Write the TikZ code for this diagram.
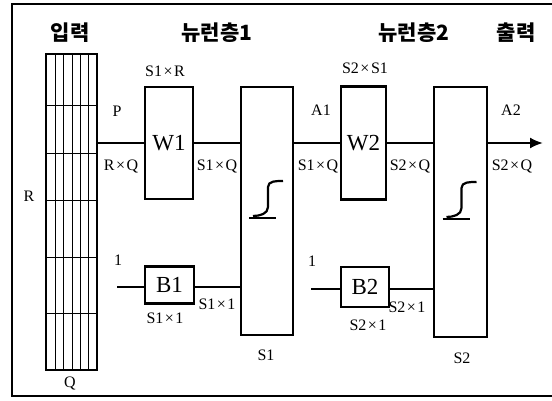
\documentclass[tikz,border=0pt]{standalone}
\usepackage{fontspec}
\setmainfont{Liberation Serif}
\newfontfamily\kor{Noto Sans CJK KR}
\usetikzlibrary{arrows.meta}
\newcommand{\tms}{\hspace{1.5pt}×\hspace{1.5pt}}
\begin{document}
\begin{tikzpicture}[x=1pt, y=-1pt, >={Latex[length=13pt,width=11pt]},
  box/.style={draw, line width=2.2pt, inner sep=0pt, font=\fontsize{23}{25}\selectfont},
  lbl/.style={inner sep=0pt, font=\fontsize{16}{18}\selectfont},
  ttl/.style={inner sep=0pt, font=\kor\bfseries\fontsize{21}{24}\selectfont},
  wire/.style={line width=2pt}]
\useasboundingbox (0,0) rectangle (552,401);
% rahmen
\draw[line width=1.3pt] (552,4) -- (12,4) -- (12,396) -- (552,396);
% titel
\node[ttl] (tin) at (70,33) {입력};
\node[ttl] (tl1) at (217,33) {뉴런층1};
\node[ttl] (tl2) at (414,33) {뉴런층2};
\node[ttl] (tout) at (516,33) {출력};
% eingabe matrix
\node[box, minimum width=51pt, minimum height=316pt] (inp) at (71.5,212) {};
\foreach \x in {55,63,72,80,88}
  \draw[line width=0.9pt] (\x,54) -- (\x,370);
\foreach \y in {105,153,200,257,313}
  \draw[line width=0.9pt] (46,\y) -- (97,\y);
\node[lbl] (lR) at (29,196) {R};
\node[lbl] (lQ) at (70,383) {Q};
% schicht 1
\node[box, minimum width=48pt, minimum height=112pt] (W1) at (169,143) {W1};
\node[box, minimum width=49pt, minimum height=37pt] (B1) at (169.5,285) {B1};
\node[box, minimum width=52pt, minimum height=248pt] (S1) at (267,211) {};
% schicht 2
\node[box, minimum width=45pt, minimum height=113pt] (W2) at (363.5,143) {W2};
\node[box, minimum width=48pt, minimum height=40pt] (B2) at (365,287) {B2};
\node[box, minimum width=53pt, minimum height=250pt] (S2) at (460.5,212) {};
% sigmoid
\foreach \s in {S1,S2} {
  \draw[line width=1.8pt] ([shift={(-18,7)}]\s.center) -- ([shift={(9,7)}]\s.center);
  \draw[line width=2.2pt] ([shift={(-14,5)}]\s.center) to[out=0,in=-90] ([shift={(1,-4)}]\s.center)
    -- ([shift={(1,-24)}]\s.center) to[out=90,in=180] ([shift={(16,-30)}]\s.center);
}
% verbindungen
\coordinate (one1) at (117,287);
\coordinate (one2) at (311,289);
\coordinate (out) at (543,143);
\draw[wire] (inp.east |- W1.west) -- (W1.west);
\draw[wire] (W1.east) -- (W1.east -| S1.west);
\draw[wire] (S1.east |- W2.west) -- (W2.west);
\draw[wire] (W2.east) -- (W2.east -| S2.west);
\draw[wire, ->] (S2.east |- out) -- (out);
\draw[wire] (one1) -- (one1 -| B1.west);
\draw[wire] (B1.east |- one1) -- (one1 -| S1.west);
\draw[wire] (one2) -- (one2 -| B2.west);
\draw[wire] (B2.east |- one2) -- (one2 -| S2.west);
% beschriftung
\node[lbl] (lS1R) at (165,71) {S1\tms R};
\node[lbl] (lP) at (117,111) {P};
\node[lbl] (lRQ) at (121,167) {R\tms Q};
\node[lbl] (lS1Q) at (217,167) {S1\tms Q};
\node[lbl] (lA1) at (321,110) {A1};
\node[lbl] (lS2S1) at (365,68) {S2\tms S1};
\node[lbl] (lS1Qb) at (318,167) {S1\tms Q};
\node[lbl] (lS2Q) at (410,167) {S2\tms Q};
\node[lbl] (lA2) at (511,110) {A2};
\node[lbl] (lS2Qb) at (512,167) {S2\tms Q};
\node[lbl] (lone1) at (118,260) {1};
\node[lbl] (lB1a) at (165,318) {S1\tms 1};
\node[lbl] (lB1b) at (217,304) {S1\tms 1};
\node[lbl] (lS1) at (266,355) {S1};
\node[lbl] (lone2) at (312,261) {1};
\node[lbl] (lB2a) at (368,325) {S2\tms 1};
\node[lbl] (lB2b) at (407,307) {S2\tms 1};
\node[lbl] (lS2) at (462,358) {S2};
\end{tikzpicture}
\end{document}
